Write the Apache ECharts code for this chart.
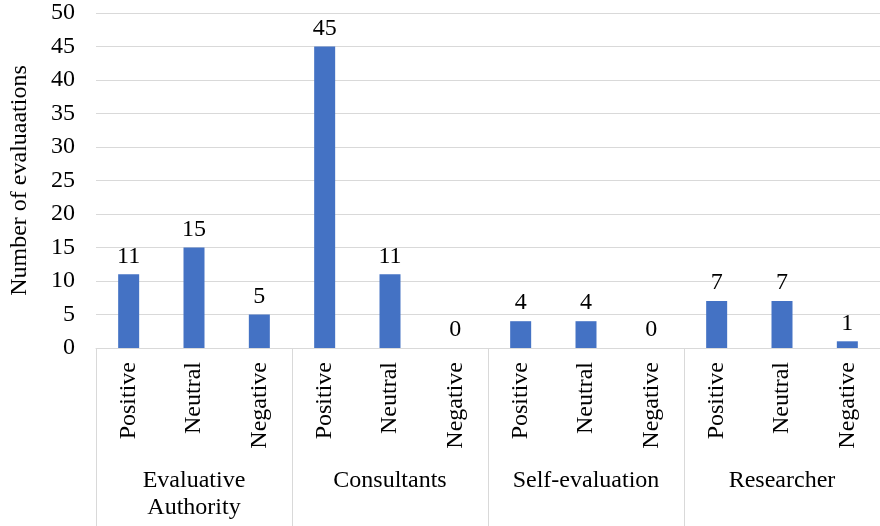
<!DOCTYPE html>
<html>
<head>
<meta charset="utf-8">
<script src="https://cdn.jsdelivr.net/npm/echarts@6/dist/echarts.min.js"></script>
<style>
  html, body { margin: 0; padding: 0; background: #fff; }
  #chart { width: 880px; height: 526px; }
</style>
</head>
<body>
<div id="chart"></div>
<script>
// Evaluation outcomes grouped by who carried out the evaluation
const groups = ['Evaluative\nAuthority', 'Consultants', 'Self-evaluation', 'Researcher'];
const outcomes = ['Positive', 'Neutral', 'Negative'];
const evaluativeAuthority = [11, 15, 5];
const consultants = [45, 11, 0];
const selfEvaluation = [4, 4, 0];
const researcher = [7, 7, 1];
const yTicks = { min: 0, max: 50, interval: 5 };

const groupValues = [evaluativeAuthority, consultants, selfEvaluation, researcher];
const categories = [];
const values = [];
groupValues.forEach(function (vals) {
  vals.forEach(function (v, i) {
    categories.push(outcomes[i]);
    values.push(v);
  });
});

const font = "'Liberation Serif', 'Times New Roman', serif";
const fontSize = 24;
const gridLine = '#d9d9d9';
const textColor = '#000';

const chart = echarts.init(document.getElementById('chart'), null, { renderer: 'canvas' });
chart.setOption({
  animation: false,
  grid: { left: 91, top: 13, width: 793, height: 335, containLabel: false },
  xAxis: [
    {
      type: 'category',
      data: categories,
      position: 'bottom',
      axisLine: { show: true, lineStyle: { color: gridLine, width: 1 } },
      axisTick: { show: false },
      axisLabel: {
        rotate: 90,
        margin: 14,
        interval: 0,
        fontFamily: font,
        fontSize: fontSize,
        color: textColor
      }
    },
    {
      type: 'category',
      data: groups,
      position: 'bottom',
      axisLine: { show: false },
      axisTick: { show: true, length: 180, lineStyle: { color: gridLine, width: 1 } },
      axisLabel: {
        margin: 119,
        interval: 0,
        fontFamily: font,
        fontSize: fontSize,
        lineHeight: 27,
        color: textColor
      }
    }
  ],
  yAxis: {
    type: 'value',
    min: yTicks.min,
    max: yTicks.max,
    interval: yTicks.interval,
    name: 'Number of evaluaations',
    nameLocation: 'middle',
    nameRotate: 90,
    nameGap: 64,
    nameTextStyle: { fontFamily: font, fontSize: fontSize, color: textColor },
    axisLine: { show: false },
    axisTick: { show: false },
    axisLabel: { margin: 21, fontFamily: font, fontSize: fontSize, color: textColor },
    splitLine: { show: true, lineStyle: { color: gridLine, width: 1 } }
  },
  series: [
    {
      type: 'bar',
      xAxisIndex: 0,
      data: values,
      barWidth: 21,
      itemStyle: { color: '#4472C4' },
      label: {
        show: true,
        position: 'top',
        distance: 6,
        fontFamily: font,
        fontSize: fontSize,
        color: textColor
      }
    }
  ]
});
</script>
</body>
</html>
